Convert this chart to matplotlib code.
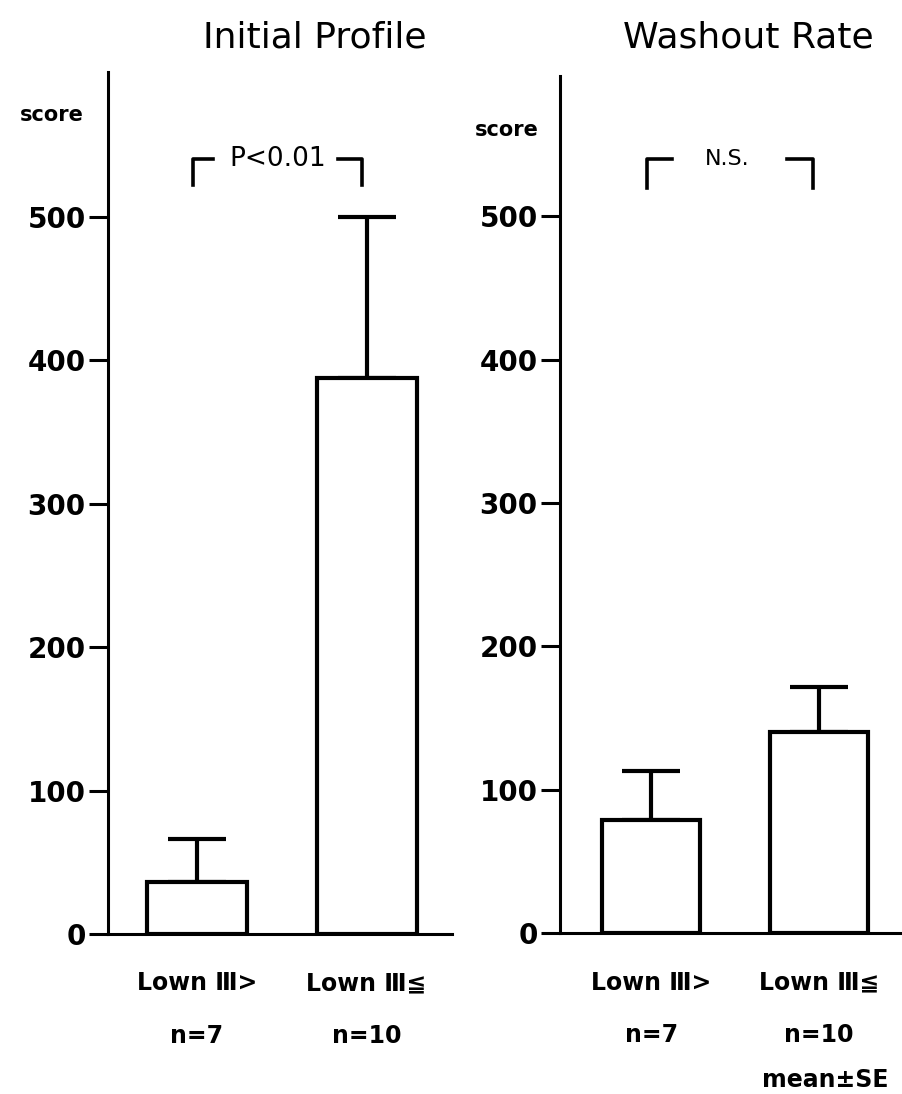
import matplotlib.pyplot as plt

plt.rcParams['font.family'] = ['DejaVu Sans', 'Noto Sans CJK JP']

# data (score, mean and mean+SE)
groups = ["Lown Ⅲ>\nn=7", "Lown Ⅲ≦\nn=10"]
initial_mean = [36, 388]
initial_se = [30, 112]
washout_mean = [79, 140]
washout_se = [34, 32]
yticks = [0, 100, 200, 300, 400, 500]

W, H = 902, 1094
fig = plt.figure(figsize=(W / 100, H / 100), dpi=100)


def px_axes(left, right, top, bottom):
    return fig.add_axes([left / W, 1 - bottom / H, (right - left) / W, (bottom - top) / H])


def style(ax, ylim_top, xlim):
    ax.set_ylim(0, ylim_top)
    ax.set_xlim(*xlim)
    for s in ["top", "right"]:
        ax.spines[s].set_visible(False)
    ax.spines["left"].set_linewidth(2.2)
    ax.spines["bottom"].set_linewidth(2.2)
    ax.set_yticks(yticks)
    ax.set_yticklabels([str(t) for t in yticks], fontsize=20, weight="bold")
    ax.tick_params(axis="y", length=14, width=2.2, pad=2)
    ax.set_xticks([0, 1])
    ax.set_xticklabels(groups, fontsize=17, weight="bold", linespacing=2.5)
    ax.tick_params(axis="x", length=0, pad=27)


def bars(ax, means, ses, width):
    ax.bar([0, 1], means, width=width, color="white", edgecolor="black",
           linewidth=3, zorder=3)
    ax.errorbar([0, 1], means, yerr=[[0, 0], ses], fmt="none", ecolor="black",
                elinewidth=3, capsize=21, capthick=3, zorder=2)


def bracket(ax, x0, x1, x2, x3, ylo, yhi, label, x_text, fs):
    ax.plot([x0, x0, x1], [ylo, yhi, yhi], color="black", lw=2.6, clip_on=False)
    ax.plot([x2, x3, x3], [yhi, yhi, ylo], color="black", lw=2.6, clip_on=False)
    ax.text(x_text, yhi, label, ha="center", va="center", fontsize=fs)


# left panel: Initial Profile
ax1 = px_axes(108, 452, 72, 934)
style(ax1, 601, (-0.525, 1.504))
bars(ax1, initial_mean, initial_se, 0.59)
bracket(ax1, -0.024, 0.094, 0.832, 0.973, 522, 540, "P<0.01", 0.478, 19)

# right panel: Washout Rate
ax2 = px_axes(560, 902, 76, 933)
style(ax2, 598, (-0.546, 1.496))
bars(ax2, washout_mean, washout_se, 0.585)
bracket(ax2, -0.027, 0.122, 0.809, 0.964, 520, 540, "N.S.", 0.45, 16)

fig.text(315 / W, 1 - 38 / H, "Initial Profile", ha="center", va="center", fontsize=26)
fig.text(748 / W, 1 - 38 / H, "Washout Rate", ha="center", va="center", fontsize=26)
fig.text(52 / W, 1 - 115 / H, "score", ha="center", va="center", fontsize=15, weight="bold")
fig.text(507 / W, 1 - 130 / H, "score", ha="center", va="center", fontsize=15, weight="bold")
fig.text(825 / W, 1 - 1080 / H, "mean±SE", ha="center", va="center", fontsize=17, weight="bold")

fig.savefig("out.png", dpi=100)
